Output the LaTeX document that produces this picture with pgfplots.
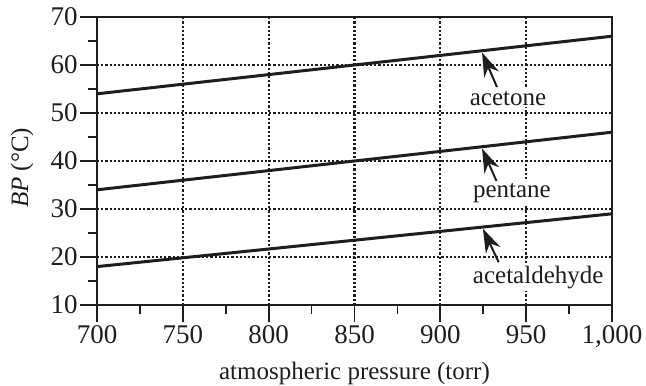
\documentclass[border=0pt]{standalone}
\usepackage{pgfplots}
\pgfplotsset{compat=1.18}
\usepackage{fontspec}
\setmainfont{Liberation Serif}
\usetikzlibrary{arrows.meta}

\definecolor{ink}{HTML}{1e1e1e}

\begin{document}
\begin{tikzpicture}
\begin{axis}[
  at={(0,0)}, anchor=south west,
  scale only axis,
  width=257.5pt, height=144pt,
  xmin=700, xmax=1000,
  ymin=10, ymax=70,
  xtick={700,750,...,1000},
  ytick={10,20,...,70},
  minor x tick num=1,
  minor y tick num=1,
  xtick pos=bottom, ytick pos=left,
  tick align=outside,
  major tick length=8.5pt,
  minor tick length=4.5pt,
  tick style={line width=0.9pt, ink},
  axis line style={line width=0.9pt, ink},
  grid=major,
  major grid style={dash pattern=on 1.1pt off 1pt, line width=1.1pt, ink},
  font=\fontsize{12.5}{15}\selectfont,
  tick label style={font=\fontsize{13.5}{16}\selectfont, text=ink},
  /pgf/number format/assume math mode=true,
  /pgf/number format/1000 sep={,},
  xticklabel style={inner sep=1.5pt},
  yticklabel style={inner sep=1pt},
  xlabel={atmospheric pressure (torr)},
  ylabel={\textit{BP} (°C)},
  xlabel style={at={(axis description cs:0.5,-0.257)}, anchor=base, text=ink},
  ylabel style={at={(axis description cs:-0.1456,0.476)}, anchor=center, text=ink},
]
% boiling point against pressure, one straight line per liquid
\addplot[line width=1.5pt, color=ink] coordinates {(700,54) (1000,66)};
\addplot[line width=1.5pt, color=ink] coordinates {(700,34) (1000,46)};
\addplot[line width=1.5pt, color=ink] coordinates {(700,18) (1000,29)};

% name tags with pointers; the white fill hides the grid behind each tag
\draw[-{Stealth[length=12pt,width=8pt]}, line width=1pt, ink]
  (axis cs:933,55.4) -- (axis cs:924.3,62.6);
\draw[-{Stealth[length=12pt,width=8pt]}, line width=1pt, ink]
  (axis cs:933,35.6) -- (axis cs:924.3,42.6);
\draw[-{Stealth[length=12pt,width=8pt]}, line width=1pt, ink]
  (axis cs:934,18.9) -- (axis cs:924.8,25.9);
\node[inner sep=1pt, fill=white, text=ink] at (axis cs:939.4,53.1) {acetone};
\node[inner sep=1pt, fill=white, text=ink] at (axis cs:941.7,33.3) {pentane};
\node[inner sep=1pt, fill=white, text=ink] at (axis cs:957,15.8) {acetaldehyde};
\end{axis}
\pgfresetboundingbox
\path (-48.5pt,-40pt) rectangle (274.5pt,152.5pt);
\end{tikzpicture}
\end{document}
